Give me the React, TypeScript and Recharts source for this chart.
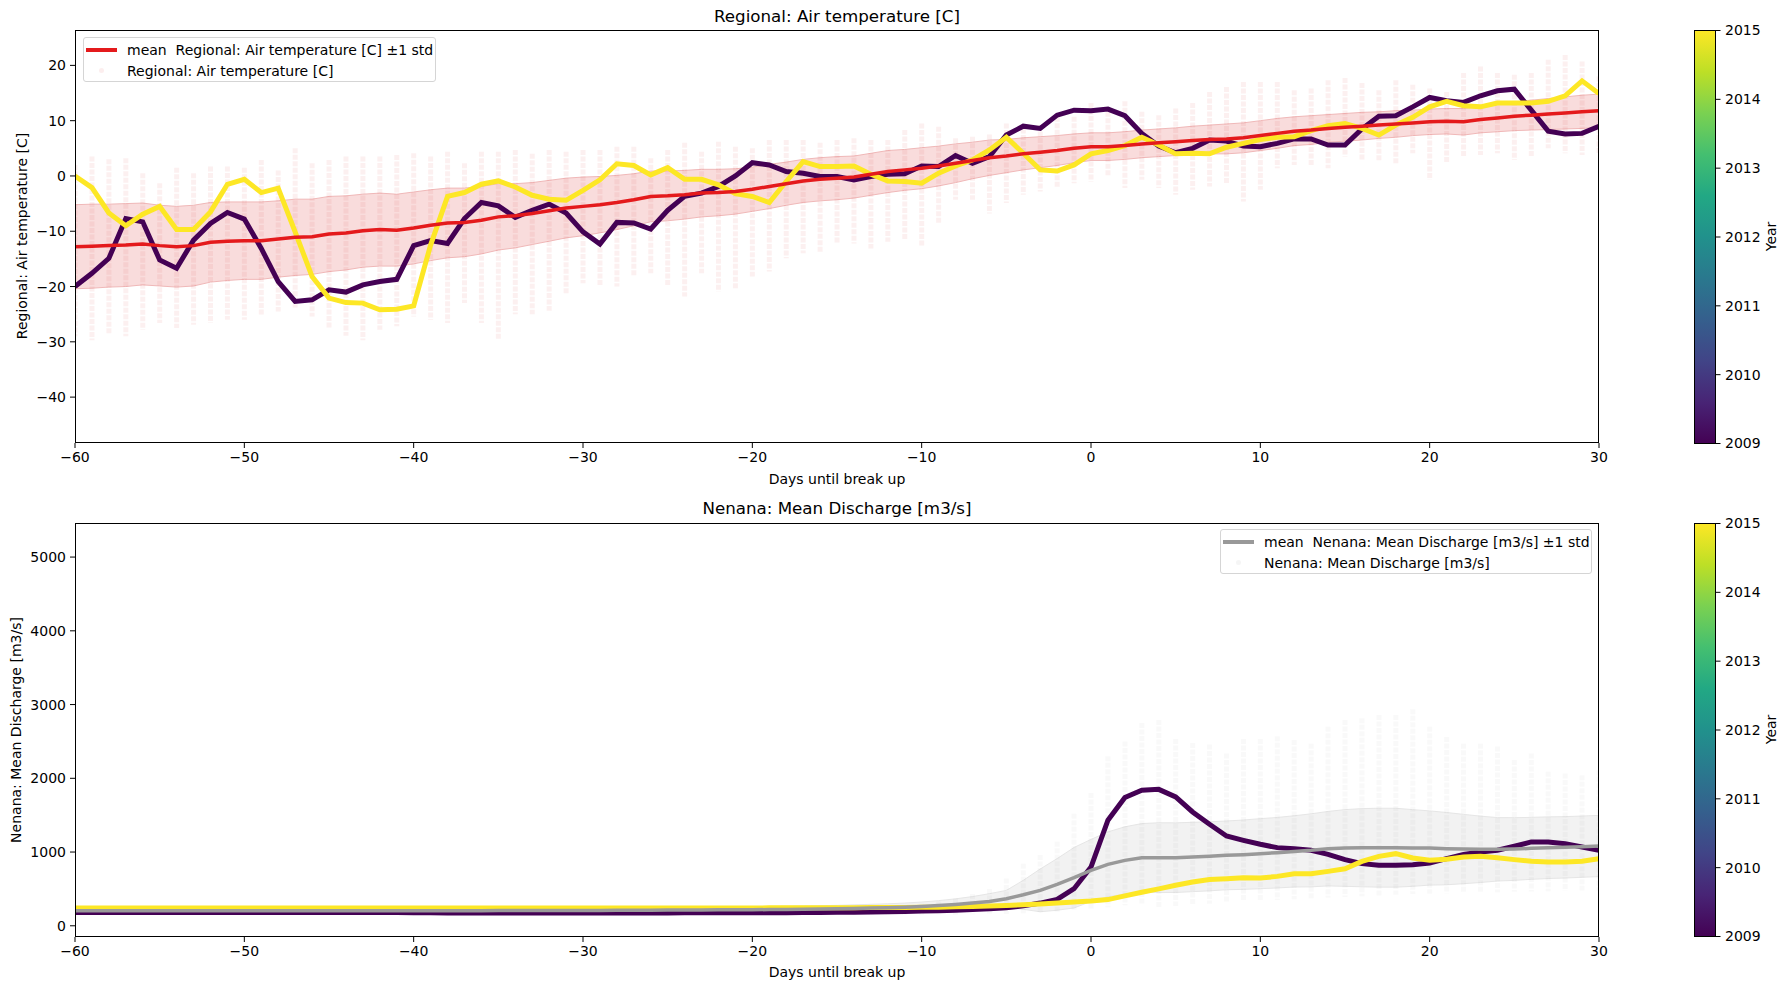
import React from "react";
import { ComposedChart, Line, Area, Bar, XAxis, YAxis } from "recharts";

// days relative to break up
const days = [
  -60, -59, -58, -57, -56, -55, -54, -53, -52, -51, -50, -49, -48, -47, -46, -45, -44, -43, -42, -41,
  -40, -39, -38, -37, -36, -35, -34, -33, -32, -31, -30, -29, -28, -27, -26, -25, -24, -23, -22, -21,
  -20, -19, -18, -17, -16, -15, -14, -13, -12, -11, -10, -9, -8, -7, -6, -5, -4, -3, -2, -1,
  0, 1, 2, 3, 4, 5, 6, 7, 8, 9, 10, 11, 12, 13, 14, 15, 16, 17, 18, 19,
  20, 21, 22, 23, 24, 25, 26, 27, 28, 29, 30,
];

// Regional air temperature [C]
const tempMean = [
  -12.8, -12.7, -12.6, -12.5, -12.3, -12.6, -12.8, -12.6, -12.0, -11.8,
  -11.7, -11.7, -11.4, -11.1, -11.0, -10.5, -10.3, -9.9, -9.7, -9.8,
  -9.4, -8.9, -8.5, -8.4, -8.0, -7.4, -7.2, -6.8, -6.3, -5.8,
  -5.5, -5.2, -4.8, -4.3, -3.7, -3.6, -3.4, -3.1, -3.0, -2.8,
  -2.4, -1.9, -1.4, -0.9, -0.6, -0.4, -0.2, 0.3, 0.8, 1.1,
  1.4, 1.8, 2.3, 2.8, 3.3, 3.6, 4.0, 4.3, 4.6, 5.0,
  5.3, 5.3, 5.5, 5.8, 6.0, 6.2, 6.4, 6.6, 6.7, 6.9,
  7.3, 7.7, 8.1, 8.3, 8.6, 8.8, 9.0, 9.2, 9.4, 9.6,
  9.8, 9.9, 9.8, 10.2, 10.5, 10.8, 11.0, 11.2, 11.4, 11.6, 11.8,
];
const tempStd = [
  7.6, 7.6, 7.5, 7.5, 7.4, 7.3, 7.3, 7.3, 7.2, 7.1,
  7.0, 7.0, 6.9, 6.9, 6.8, 6.8, 6.7, 6.6, 6.6, 6.5,
  6.5, 6.4, 6.3, 6.2, 6.1, 6.0, 5.8, 5.6, 5.5, 5.4,
  5.3, 5.1, 4.9, 4.7, 4.6, 4.5, 4.4, 4.3, 4.2, 4.1,
  4.0, 4.0, 3.9, 3.9, 3.9, 3.9, 3.8, 3.8, 3.8, 3.7,
  3.7, 3.6, 3.5, 3.3, 3.2, 3.0, 2.9, 2.8, 2.7, 2.6,
  2.5, 2.5, 2.5, 2.5, 2.5, 2.5, 2.6, 2.6, 2.7, 2.7,
  2.7, 2.7, 2.6, 2.6, 2.5, 2.5, 2.5, 2.4, 2.4, 2.3,
  2.3, 2.3, 2.4, 2.4, 2.5, 2.6, 2.7, 2.8, 2.9, 3.0, 3.0,
];
const temp2009 = [
  -20.0, -17.6, -14.9, -7.7, -8.3, -15.2, -16.7, -11.6, -8.6, -6.6,
  -7.8, -13.1, -19.1, -22.7, -22.4, -20.6, -21.0, -19.7, -19.1, -18.7,
  -12.6, -11.7, -12.2, -7.7, -4.8, -5.4, -7.5, -6.2, -5.1, -6.7,
  -10.1, -12.3, -8.4, -8.5, -9.6, -6.2, -3.7, -3.1, -1.9, 0.0,
  2.4, 2.0, 0.8, 0.5, -0.1, -0.1, -0.7, -0.1, 0.3, 0.4,
  1.8, 1.7, 3.7, 2.3, 3.5, 7.4, 9.0, 8.6, 11.0, 11.9,
  11.8, 12.1, 10.9, 7.7, 5.4, 4.2, 5.0, 6.5, 6.3, 5.4,
  5.3, 5.9, 6.7, 6.7, 5.6, 5.6, 8.5, 10.8, 10.9, 12.5,
  14.2, 13.6, 13.3, 14.5, 15.4, 15.7, 11.9, 8.1, 7.6, 7.7, 9.0,
];
const temp2015 = [
  0.0, -2.1, -6.7, -9.0, -6.9, -5.5, -9.7, -9.7, -6.5, -1.5,
  -0.6, -3.0, -2.2, -10.1, -18.2, -22.1, -22.9, -23.0, -24.2, -24.1,
  -23.5, -12.5, -3.7, -3.0, -1.5, -0.9, -2.0, -3.5, -4.2, -4.4,
  -2.6, -0.7, 2.2, 1.9, 0.2, 1.5, -0.6, -0.6, -1.6, -3.2,
  -3.7, -4.8, -1.0, 2.6, 1.7, 1.7, 1.8, 0.3, -0.9, -1.0,
  -1.3, 0.5, 1.8, 2.9, 4.7, 7.0, 4.1, 1.1, 0.9, 2.0,
  4.0, 4.6, 5.5, 7.0, 5.6, 4.0, 4.1, 4.0, 5.2, 5.9,
  6.6, 7.0, 7.1, 8.2, 9.1, 9.5, 8.6, 7.4, 9.2, 10.6,
  12.5, 13.5, 12.7, 12.5, 13.2, 13.2, 13.2, 13.5, 14.5, 17.2, 14.9,
];
// spread of the yearly observations (lowest / highest dot per day)
const tempObsLow = [
  -29.0, -29.7, -28.7, -29.0, -27.8, -26.6, -27.5, -26.9, -26.6, -26.0,
  -26.0, -25.1, -24.5, -23.8, -25.4, -27.5, -28.9, -29.7, -27.8, -27.2,
  -25.4, -26.0, -26.6, -23.0, -26.6, -29.7, -25.0, -25.0, -24.4, -21.2,
  -19.4, -19.7, -20.0, -18.2, -17.6, -20.0, -21.8, -17.6, -20.9, -20.3,
  -18.2, -17.3, -14.9, -14.0, -14.0, -12.2, -12.2, -13.1, -11.9, -11.6,
  -12.8, -8.6, -4.3, -4.3, -6.8, -4.9, -3.4, -2.8, -2.2, -1.3,
  -1.0, 0.0, -2.2, -0.7, -2.2, -3.4, -2.5, -1.9, -1.3, -4.6,
  -2.5, 1.4, 2.0, 1.7, 1.4, 3.5, 2.9, 2.6, 2.3, 4.1,
  -0.7, 2.3, 3.5, 3.8, 4.1, 2.9, 3.5, 5.0, 4.1, 3.8, 4.1,
];
const tempObsHigh = [
  2.0, 3.5, 3.0, 3.2, 0.5, -1.3, 1.5, 0.5, 1.7, 1.7,
  1.5, 2.9, 1.0, 5.0, 2.3, 2.9, 3.5, 3.5, 3.5, 3.8,
  4.1, 3.5, 4.4, 2.3, 4.4, 4.4, 4.7, 4.0, 4.7, 4.4,
  4.7, 4.7, 5.3, 5.3, 3.2, 4.7, 6.0, 4.4, 6.2, 5.3,
  5.0, 6.5, 6.5, 6.5, 6.0, 6.5, 6.8, 6.5, 6.5, 8.3,
  9.5, 8.9, 6.8, 7.1, 7.5, 9.5, 8.6, 9.2, 10.7, 10.7,
  13.2, 11.6, 13.5, 11.6, 11.0, 12.2, 13.2, 15.2, 16.1, 17.0,
  17.0, 17.0, 15.5, 15.8, 17.3, 17.7, 16.8, 15.5, 17.3, 16.5,
  15.8, 15.2, 18.6, 19.8, 18.6, 18.3, 18.6, 21.0, 21.9, 20.7, 18.0,
];

// Nenana mean discharge [m3/s]
const qMean = [
  205, 205, 205, 205, 205, 205, 205, 205, 205, 205,
  205, 205, 205, 205, 205, 205, 205, 205, 205, 205,
  205, 205, 205, 205, 205, 206, 206, 207, 207, 208,
  209, 209, 210, 211, 212, 213, 214, 215, 216, 217,
  218, 220, 222, 224, 227, 230, 235, 240, 245, 252,
  262, 275, 290, 308, 330, 367, 420, 480, 561, 652,
  751, 833, 887, 924, 924, 924, 933, 942, 955, 964,
  978, 991, 1009, 1023, 1046, 1055, 1059, 1059, 1059, 1055,
  1055, 1046, 1041, 1037, 1037, 1041, 1050, 1059, 1064, 1073, 1082,
];
const qStd = [
  30, 30, 30, 30, 30, 30, 30, 30, 30, 30,
  30, 30, 30, 30, 30, 30, 30, 30, 30, 30,
  30, 30, 30, 30, 30, 30, 31, 31, 32, 32,
  33, 33, 34, 35, 35, 36, 37, 38, 38, 39,
  40, 41, 42, 43, 45, 47, 49, 51, 53, 56,
  60, 66, 75, 88, 105, 113, 196, 290, 350, 410,
  420, 440, 455, 462, 473, 472, 470, 468, 466, 470,
  475, 478, 483, 495, 505, 520, 530, 535, 535, 520,
  503, 490, 470, 450, 430, 425, 420, 418, 416, 415, 415,
];
const q2009 = [
  180, 180, 180, 180, 180, 180, 180, 180, 180, 180,
  180, 180, 180, 180, 180, 180, 180, 180, 180, 180,
  178, 176, 175, 175, 175, 175, 175, 175, 175, 175,
  175, 175, 175, 175, 175, 175, 176, 177, 178, 178,
  178, 178, 178, 179, 180, 182, 185, 188, 190, 195,
  199, 205, 212, 222, 232, 245, 270, 308, 358, 503,
  797, 1431, 1739, 1839, 1850, 1748, 1544, 1376, 1218, 1159,
  1105, 1060, 1046, 1024, 969, 897, 843, 820, 820, 829,
  852, 910, 969, 1001, 1024, 1078, 1137, 1137, 1114, 1069, 1024,
];
const q2015 = [
  240, 240, 240, 240, 240, 240, 240, 240, 240, 240,
  240, 240, 240, 240, 240, 240, 240, 240, 240, 240,
  240, 240, 240, 240, 240, 240, 240, 240, 240, 240,
  240, 240, 240, 240, 240, 241, 241, 241, 242, 242,
  242, 243, 243, 244, 244, 245, 246, 247, 248, 249,
  250, 253, 257, 262, 268, 276, 285, 295, 308, 322,
  335, 355, 405, 455, 500, 550, 593, 629, 638, 652,
  647, 670, 706, 706, 738, 774, 874, 942, 978, 919,
  888, 901, 933, 942, 924, 897, 874, 865, 865, 874, 910,
];
const qObsLow = [
  150, 150, 150, 150, 150, 150, 150, 150, 150, 150,
  150, 150, 150, 150, 150, 150, 150, 150, 150, 150,
  150, 150, 150, 150, 150, 150, 150, 150, 150, 150,
  150, 150, 150, 150, 150, 150, 150, 150, 150, 150,
  150, 150, 150, 150, 150, 150, 150, 150, 150, 150,
  150, 150, 150, 155, 158, 160, 170, 180, 190, 200,
  220, 250, 280, 290, 253, 270, 290, 300, 320, 330,
  344, 350, 360, 370, 380, 390, 400, 410, 420, 430,
  435, 440, 445, 450, 455, 460, 465, 470, 475, 478, 480,
];
const qObsHigh = [
  250, 250, 250, 250, 250, 250, 250, 250, 250, 250,
  250, 250, 250, 250, 250, 250, 250, 250, 250, 250,
  250, 250, 250, 250, 250, 250, 250, 250, 250, 250,
  250, 250, 250, 250, 250, 250, 250, 250, 250, 250,
  255, 255, 255, 255, 255, 258, 260, 262, 265, 270,
  300, 330, 370, 430, 500, 640, 840, 960, 1140, 1520,
  1800, 2300, 2500, 2750, 2790, 2532, 2480, 2460, 2337, 2532,
  2532, 2570, 2520, 2470, 2700, 2790, 2813, 2858, 2858, 2935,
  2700, 2560, 2470, 2470, 2430, 2247, 2337, 2088, 2065, 2043, 2110,
];

const xTicks = [-60, -50, -40, -30, -20, -10, 0, 10, 20, 30];
const tempTicks = [-40, -30, -20, -10, 0, 10, 20];
const qTicks = [0, 1000, 2000, 3000, 4000, 5000];
const years = [2009, 2010, 2011, 2012, 2013, 2014, 2015];

const tempRows = days.map((d, i) => ({
  day: d,
  mean: tempMean[i],
  band: [tempMean[i] - tempStd[i], tempMean[i] + tempStd[i]],
  obs: [tempObsLow[i], tempObsHigh[i]],
  y2009: temp2009[i],
  y2015: temp2015[i],
}));
const qRows = days.map((d, i) => ({
  day: d,
  mean: qMean[i],
  band: [qMean[i] - qStd[i], qMean[i] + qStd[i]],
  obs: [qObsLow[i], qObsHigh[i]],
  y2009: q2009[i],
  y2015: q2015[i],
}));

const FONT = "'DejaVu Sans', sans-serif";
const PURPLE = "#440154";
const YELLOW = "#fde725";
const viridis = ["#440154", "#482475", "#414487", "#355f8d", "#2a788e", "#21918c", "#22a884", "#44bf70", "#7ad151", "#bddf26", "#fde725"];

const PLOT_L = 75;
const PLOT_R = 1599;
const W = 1789;

const fmt = (v: number) => (v < 0 ? "\u2212" + Math.abs(v) : String(v));

// faint column of dots for the yearly observations
const dotColumn = (color: string, alpha: number) => (p: any) => {
  if (p.height == null || p.y == null) return <g />;
  const cx = p.x + p.width / 2;
  return (
    <line x1={cx} x2={cx} y1={p.y} y2={p.y + p.height} stroke={color} strokeOpacity={alpha} strokeWidth={5} strokeDasharray="5 1.5" />
  );
};

function Panel({ top, height, xAxisH, rows, domain, ticks, meanColor, bandColor, bandEdge, dotColor, dotAlpha }: any) {
  const tick = { fill: "#000", fontSize: 14, fontFamily: FONT };
  return (
    <div style={{ position: "absolute", left: 0, top, width: W, height }}>
      <ComposedChart width={W} height={height} data={rows} margin={{ top: 30, right: W - PLOT_R, bottom: 0, left: 0 }}>
        <XAxis
          dataKey="day"
          type="number"
          domain={[-60, 30]}
          ticks={xTicks}
          allowDataOverflow
          height={xAxisH}
          tick={tick}
          tickFormatter={fmt}
          tickSize={5}
          tickMargin={4}
          axisLine={false}
          tickLine={{ stroke: "#000" }}
          interval={0}
        />
        <YAxis
          type="number"
          domain={domain}
          ticks={ticks}
          allowDataOverflow
          width={PLOT_L}
          tick={tick}
          tickFormatter={fmt}
          tickSize={5}
          tickMargin={4}
          axisLine={false}
          tickLine={{ stroke: "#000" }}
          interval={0}
        />
        <Area dataKey="band" stroke={bandEdge} strokeWidth={1} fill={bandColor} fillOpacity={1} isAnimationActive={false} dot={false} activeDot={false} />
        <Bar dataKey="obs" barSize={5} shape={dotColumn(dotColor, dotAlpha)} isAnimationActive={false} />
        <Line dataKey="y2009" stroke={PURPLE} strokeWidth={5} dot={false} activeDot={false} isAnimationActive={false} />
        <Line dataKey="y2015" stroke={YELLOW} strokeWidth={5} dot={false} activeDot={false} isAnimationActive={false} />
        <Line dataKey="mean" stroke={meanColor} strokeWidth={3.5} dot={false} activeDot={false} isAnimationActive={false} />
      </ComposedChart>
      <div style={{ position: "absolute", left: PLOT_L, top: 30, width: PLOT_R - PLOT_L, height: height - 30 - xAxisH, border: "1px solid #000", boxSizing: "border-box", pointerEvents: "none" }} />
    </div>
  );
}

function Colorbar({ top, id }: { top: number; id: string }) {
  const h = 413;
  return (
    <svg style={{ position: "absolute", left: 1690, top: top - 10, overflow: "visible" }} width={99} height={h + 20}>
      <defs>
        <linearGradient id={id} x1="0" y1="1" x2="0" y2="0">
          {viridis.map((c, i) => (
            <stop key={i} offset={i / (viridis.length - 1)} stopColor={c} />
          ))}
        </linearGradient>
      </defs>
      <rect x={4.5} y={10.5} width={21} height={h} fill={`url(#${id})`} stroke="#000" strokeWidth={1} />
      {years.map((yr) => {
        const y = 10.5 + h - ((yr - 2009) / 6) * h;
        return (
          <g key={yr}>
            <line x1={25.5} x2={30.5} y1={y} y2={y} stroke="#000" />
            <text x={35} y={y} dy="0.35em" fontSize={14} fontFamily={FONT} fill="#000">{yr}</text>
          </g>
        );
      })}
      <text transform={`translate(81, ${10 + h / 2}) rotate(-90)`} textAnchor="middle" dy="0.35em" fontSize={14} fontFamily={FONT} fill="#000">Year</text>
    </svg>
  );
}

const txt: React.CSSProperties = { position: "absolute", fontFamily: FONT, fontSize: 14, color: "#000", whiteSpace: "pre", lineHeight: 1 };

function Legend({ left, top, width, line, lineColor, dotColor, label }: any) {
  return (
    <div style={{ position: "absolute", left, top, width, height: 45, border: "1px solid #d5d5d5", borderRadius: 3, background: "rgba(255,255,255,0.85)", boxSizing: "border-box" }}>
      <div style={{ position: "absolute", left: 2, top: 10, width: 31, height: line, background: lineColor }} />
      <div style={{ ...txt, left: 43, top: 5 }}>{"mean  " + label + " \u00b11 std"}</div>
      <div style={{ position: "absolute", left: 15, top: 30, width: 5, height: 5, borderRadius: 3, background: dotColor, opacity: 0.08 }} />
      <div style={{ ...txt, left: 43, top: 26 }}>{label}</div>
    </div>
  );
}

export default function App() {
  return (
    <div style={{ position: "fixed", left: 0, top: 0, width: W, height: 989, background: "#fff", overflow: "hidden" }}>
      <div style={{ ...txt, fontSize: 16.7, left: 837, top: 8, transform: "translateX(-50%)" }}>Regional: Air temperature [C]</div>
      <Panel top={0} height={500} xAxisH={57} rows={tempRows} domain={[-48.3, 26.4]} ticks={tempTicks} meanColor="#e41a1c" bandColor="#f9dcdc" bandEdge="#f0b8b8" dotColor="#d62728" dotAlpha={0.07} />
      <div style={{ ...txt, left: 837, top: 472, transform: "translateX(-50%)" }}>Days until break up</div>
      <div style={{ ...txt, left: 22, top: 236, transform: "translate(-50%, -50%) rotate(-90deg)" }}>Regional: Air temperature [C]</div>
      <Legend left={83} top={37} width={353} line={4} lineColor="#e41a1c" dotColor="#d62728" label="Regional: Air temperature [C]" />
      <Colorbar top={30} id="cb1" />

      <div style={{ ...txt, fontSize: 16.7, left: 837, top: 500, transform: "translateX(-50%)" }}>Nenana: Mean Discharge [m3/s]</div>
      <Panel top={493} height={496} xAxisH={52} rows={qRows} domain={[-152, 5462]} ticks={qTicks} meanColor="#999999" bandColor="#f2f2f2" bandEdge="#e6e6e6" dotColor="#808080" dotAlpha={0.05} />
      <div style={{ ...txt, left: 837, top: 965, transform: "translateX(-50%)" }}>Days until break up</div>
      <div style={{ ...txt, left: 16, top: 730, transform: "translate(-50%, -50%) rotate(-90deg)" }}>Nenana: Mean Discharge [m3/s]</div>
      <Legend left={1220} top={529} width={372} line={4} lineColor="#999999" dotColor="#808080" label="Nenana: Mean Discharge [m3/s]" />
      <Colorbar top={523} id="cb2" />
    </div>
  );
}
